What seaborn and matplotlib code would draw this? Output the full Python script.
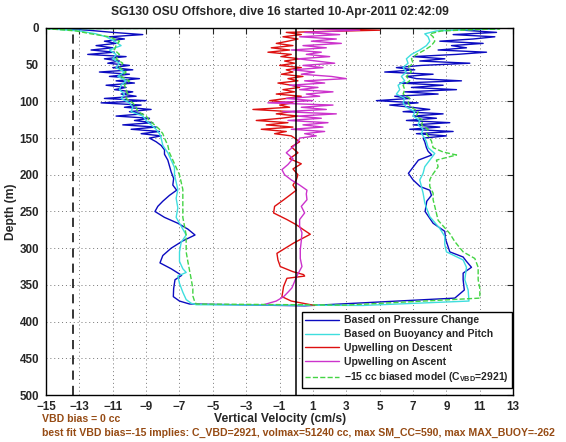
import matplotlib
matplotlib.use("Agg")
import matplotlib.pyplot as plt
import seaborn as sns
import pandas as pd

# ---------------------------------------------------------------------------
# Data (depth in m, vertical velocity in cm/s)
# ---------------------------------------------------------------------------
# noisy upper 150 m, 3 m steps
depth_top = [0, 3, 6, 9, 12, 15, 18, 21, 24, 27, 30, 33, 36, 39, 42, 45, 48, 51,
             54, 57, 60, 63, 66, 69, 72, 75, 78, 81, 84, 87, 90, 93, 96, 99, 102,
             105, 108, 111, 114, 117, 120, 123, 126, 129, 132, 135, 138, 141, 144,
             147, 150]

press_desc_top = [-14.8, -12.5, -11.0, -9.2, -11.2, -10.3, -11.5, -10.8, -12.0, -11.0,
                  -12.3, -10.9, -12.5, -10.2, -11.5, -10.6, -11.3, -10.0, -11.0, -9.8,
                  -11.8, -10.0, -11.2, -9.4, -10.8, -9.7, -11.4, -10.2, -10.9, -9.8,
                  -10.5, -9.6, -11.5, -9.0, -11.7, -9.3, -10.3, -8.7, -10.0, -9.2,
                  -10.8, -8.8, -9.7, -8.6, -10.4, -8.4, -9.9, -8.2, -9.3, -8.1, -8.8]
press_asc_top = [12.5, 10.0, 12.0, 9.4, 11.9, 10.6, 8.6, 11.2, 9.3, 10.2,
                 8.5, 11.4, 9.6, 7.0, 8.9, 7.4, 10.4, 7.5, 6.0, 7.1,
                 5.3, 8.2, 6.6, 7.2, 9.9, 6.2, 8.8, 6.9, 9.6, 6.5,
                 8.5, 5.9, 6.8, 4.8, 7.3, 5.6, 6.9, 8.0, 6.4, 8.8,
                 7.0, 8.4, 6.6, 9.2, 7.0, 8.6, 6.8, 9.4, 7.2, 9.0, 7.6]
upw_desc_top = [0.0, 5.0, -0.6, 0.3, -0.8, 0.1, -0.5, -1.2, -0.2, -1.5,
                -0.4, -1.7, -0.3, -0.9, 0.2, -0.7, -0.1, -1.0, 0.3, -0.6,
                -0.2, -0.9, 0.4, -0.5, 0.1, -1.1, -0.3, 0.2, -0.8, -0.1,
                -1.2, 0.3, -0.6, -1.6, -0.2, -1.0, -0.4, -2.6, -0.3, -1.2,
                0.1, -0.9, -2.4, -0.5, -1.8, -0.2, -2.1, -0.6, -1.3, -0.3, -0.1]
upw_asc_top = [0.0, 3.8, 0.5, 2.6, 0.2, 2.4, 0.9, 2.7, 0.4, 1.8,
               -0.3, 1.5, 0.6, 2.0, 0.1, 1.2, 2.3, 0.4, 1.6, -0.2,
               1.1, 0.3, 2.1, 3.0, 0.5, 1.7, -0.4, 1.3, 0.2, 2.2,
               0.6, 1.4, -0.6, 1.0, -1.7, 2.2, 0.3, 1.8, -0.8, 2.4,
               0.1, 1.5, -0.5, 1.9, 0.4, 1.6, -0.3, 1.7, 0.5, 1.2, 0.2]

# smoother model-based curves, upper 150 m
depth_smooth_top = [0, 1, 4, 8, 12, 18, 24, 30, 36, 42, 48, 54, 60, 66, 72, 78, 84,
                    90, 96, 102, 108, 114, 120, 126, 132, 138, 144, 150]
buoy_desc_top = [-0.3, -14.9, -13.0, -12.0, -11.4, -10.9, -10.5, -11.2, -10.8, -11.0,
                 -10.6, -10.8, -10.3, -10.7, -10.2, -10.5, -10.6, -10.3, -10.5, -10.0,
                 -9.8, -9.9, -9.2, -9.0, -8.7, -8.4, -8.2, -8.1]
buoy_asc_top = [0.0, 12.0, 8.4, 7.7, 7.9, 8.0, 7.8, 7.4, 6.9, 6.6,
                6.7, 6.4, 6.6, 6.3, 6.5, 6.1, 6.2, 6.0, 6.5, 6.4,
                6.6, 7.1, 7.0, 7.4, 7.3, 7.6, 7.5, 7.7]
model_desc_top = [-0.2, -14.9, -13.2, -12.3, -11.2, -10.6, -10.8, -10.9, -10.6, -10.8,
                  -10.4, -10.6, -10.2, -10.5, -10.0, -10.3, -10.2, -10.1, -10.2, -9.8,
                  -9.6, -9.5, -9.0, -8.8, -8.5, -8.2, -8.0, -7.9]
model_asc_top = [0.0, 12.2, 8.7, 8.0, 8.2, 8.3, 8.1, 7.7, 7.2, 6.9,
                 7.0, 6.7, 6.9, 6.6, 6.8, 6.4, 6.5, 6.4, 6.8, 6.7,
                 6.9, 7.3, 7.2, 7.6, 7.5, 7.9, 7.8, 8.0]

# deeper part (descent arrays end at the bottom turn)
press_desc_deep_z = [155, 160, 166, 172, 180, 188, 196, 205, 214, 221, 228, 236, 243,
                     250, 258, 266, 274, 282, 290, 300, 310, 320, 328, 337, 343, 355,
                     366, 372, 376, 378.5]
press_desc_deep = [-8.4, -8.1, -7.9, -7.9, -7.7, -7.6, -7.5, -7.35, -7.4, -7.17, -7.6,
                   -8.0, -8.3, -8.47, -7.9, -7.1, -6.5, -6.07, -6.8, -7.5, -8.0, -8.17,
                   -7.5, -6.87, -7.27, -7.35, -7.37, -7.0, -6.4, 0.5]
press_asc_deep_z = [155, 163, 168, 173, 180, 189, 198, 207, 216, 221, 228, 236, 250,
                    266, 277, 288, 298, 305, 312, 318, 326, 334, 343, 357, 368]
press_asc_deep = [7.7, 7.8, 7.9, 8.12, 7.32, 7.02, 6.72, 7.0, 7.42, 8.0, 8.1, 7.82,
                  7.72, 8.2, 8.9, 8.95, 9.1, 9.2, 10.0, 10.2, 10.5, 10.0, 10.0, 10.07, 9.5]

buoy_desc_deep_z = [160, 170, 180, 190, 200, 210, 220, 232, 245, 258, 270, 282, 292,
                    305, 318, 328, 333, 338, 348, 360, 370, 375, 377, 378]
buoy_desc_deep = [-8.0, -7.7, -7.5, -7.3, -7.3, -7.2, -7.1, -7.2, -7.1, -7.2, -6.9,
                  -6.6, -6.9, -7.0, -7.0, -6.8, -6.6, -7.1, -7.0, -6.8, -6.6, -6.3,
                  -6.0, 4.0]
buoy_asc_deep_z = [155, 163, 171, 180, 189, 198, 207, 216, 225, 238, 245, 257, 273,
                   284, 295, 305, 316, 326, 343, 357, 372]
buoy_asc_deep = [7.8, 7.9, 8.3, 8.0, 7.7, 7.6, 7.4, 7.5, 7.6, 7.7, 7.8, 8.0, 8.6,
                 8.9, 8.9, 9.0, 10.0, 10.2, 10.1, 10.3, 10.35]

model_desc_deep_z = [160, 170, 180, 190, 200, 210, 220, 232, 245, 258, 270, 282, 292,
                     305, 318, 330, 342, 355, 365, 372, 376, 377.5]
model_desc_deep = [-7.7, -7.6, -7.4, -7.2, -7.0, -6.9, -6.8, -6.8, -6.8, -6.8, -6.7,
                   -6.6, -6.6, -6.6, -6.5, -6.4, -6.3, -6.2, -6.2, -6.1, -6.0, 3.0]
model_asc_deep_z = [154, 163, 169, 173, 180, 189, 202, 207, 216, 225, 234, 243, 262,
                    280, 291, 305, 314, 326, 343, 355, 368]
model_asc_deep = [8.1, 8.2, 8.8, 9.6, 8.4, 8.5, 8.1, 8.0, 8.0, 8.2, 8.2, 8.3, 8.5,
                  9.2, 9.5, 10.0, 10.7, 10.9, 10.9, 11.0, 11.0]

upw_desc_deep_z = [155, 162, 170, 178, 185, 192, 200, 207, 214, 221, 228, 234, 243,
                   252, 261, 268, 275, 281, 293, 307, 316, 325, 332, 336, 338, 341,
                   352, 366, 372, 378]
upw_desc_deep = [0.2, -0.3, 0.1, -0.4, 0.3, -0.2, 0.1, 0.0, -0.2, 0.0, -0.4, -0.75,
                 -1.3, -1.36, -0.56, 0.0, 0.44, 0.84, -0.16, -1.16, -1.1, -0.96, -0.2,
                 0.44, 0.5, -0.56, -0.76, -0.86, -0.3, 1.1]
upw_asc_deep_z = [155, 162, 170, 178, 186, 193, 200, 207, 214, 221, 226, 234, 243,
                  252, 261, 270, 279, 290, 302, 314, 325, 335, 343, 354, 360, 366,
                  372, 377]
upw_asc_deep = [0.1, -0.2, -0.6, -0.2, -0.5, -0.86, -0.7, -0.3, 0.2, 0.64, 0.6, 0.64,
                0.3, 0.5, 0.2, 0.2, 0.34, 0.3, 0.24, 0.24, 0.34, 0.1, -0.06, -0.26,
                -0.5, -0.76, -1.2, -1.96]

vbd_line = -13.4
zero_line = 0.0

labels = ["Based on Pressure Change", "Based on Buoyancy and Pitch",
          "Upwelling on Descent", "Upwelling on Ascent",
          "\u221215 cc biased model (C$_{\\mathrm{VBD}}$=2921)"]
title = "SG130 OSU Offshore, dive 16 started 10-Apr-2011 02:42:09"
note1 = "VBD bias = 0 cc"
note2 = ("best fit VBD bias=-15 implies: C_VBD=2921, volmax=51240 cc, "
         "max SM_CC=590, max MAX_BUOY=-262")

# ---------------------------------------------------------------------------
# Assemble long-form frame (descent down, then ascent back up)
# ---------------------------------------------------------------------------
def dive(z_dt, v_dt, z_dd, v_dd, z_ad=None, v_ad=None, z_at=None, v_at=None):
    z = list(z_dt) + list(z_dd)
    v = list(v_dt) + list(v_dd)
    if z_ad is not None:
        z += list(z_ad)[::-1] + list(z_at)[::-1]
        v += list(v_ad)[::-1] + list(v_at)[::-1]
    return z, v

series = {
    labels[0]: dive(depth_top, press_desc_top, press_desc_deep_z, press_desc_deep,
                    press_asc_deep_z, press_asc_deep, depth_top, press_asc_top),
    labels[1]: dive(depth_smooth_top, buoy_desc_top, buoy_desc_deep_z, buoy_desc_deep,
                    buoy_asc_deep_z, buoy_asc_deep, depth_smooth_top, buoy_asc_top),
    labels[2]: dive(depth_top, upw_desc_top, upw_desc_deep_z, upw_desc_deep),
    labels[3]: dive(upw_asc_deep_z[::-1], upw_asc_deep[::-1], depth_top[::-1],
                    upw_asc_top[::-1]),
    labels[4]: dive(depth_smooth_top, model_desc_top, model_desc_deep_z, model_desc_deep,
                    model_asc_deep_z, model_asc_deep, depth_smooth_top, model_asc_top),
}

frames = []
for name, (z, v) in series.items():
    frames.append(pd.DataFrame({"depth": z, "velocity": v, "series": name}))
df = pd.concat(frames, ignore_index=True)

colors = {labels[0]: "#0b0bc0", labels[1]: "#3fdede", labels[2]: "#dd1010",
          labels[3]: "#cc33cc", labels[4]: "#44d444"}

# ---------------------------------------------------------------------------
# Plot
# ---------------------------------------------------------------------------
sns.set_style("white")
plt.rcParams["font.family"] = ["Liberation Sans", "DejaVu Sans"]
plt.rcParams["font.weight"] = "bold"
plt.rcParams["mathtext.fontset"] = "custom"
plt.rcParams["mathtext.rm"] = "Liberation Sans:bold"
plt.rcParams["mathtext.bf"] = "Liberation Sans:bold"
plt.rcParams["mathtext.default"] = "rm"

fig = plt.figure(figsize=(5.66, 4.42), dpi=100)
ax = fig.add_axes([0.0813, 0.1063, 0.8254, 0.8304])

for name in labels:
    sub = df[df["series"] == name]
    ls = "--" if name == labels[4] else "-"
    sns.lineplot(data=sub, x="velocity", y="depth", sort=False, estimator=None,
                 color=colors[name], lw=1.0, linestyle=ls, label=name, ax=ax)

ax.axvline(vbd_line, color="black", lw=1.1, linestyle=(0, (6, 4)))
ax.axvline(zero_line, color="black", lw=1.1)

ax.set_xlim(-15, 13)
ax.set_ylim(500, 0)
ax.set_xticks(range(-15, 14, 2))
ax.set_yticks(range(0, 501, 50))
ax.grid(True, color="#777777", linestyle=(0, (1, 3)), lw=0.7)
ax.tick_params(direction="in", length=4, width=0.8, top=True, right=True,
               labelsize=8.4)
ax.tick_params(axis="x", pad=4)
ax.tick_params(axis="y", pad=5)
for lab in ax.get_xticklabels() + ax.get_yticklabels():
    lab.set_fontweight("bold")
for sp in ax.spines.values():
    sp.set_color("black")
    sp.set_linewidth(1.0)

ax.set_xlabel("Vertical Velocity (cm/s)", fontsize=8.7, fontweight="bold", labelpad=0)
ax.set_ylabel("Depth (m)", fontsize=8.7, fontweight="bold", labelpad=2)
ax.set_title(title, fontsize=8.7, fontweight="bold", pad=9)

leg = ax.legend(loc="lower right", bbox_to_anchor=(0.998, 0.019), frameon=True,
                fancybox=False, edgecolor="black", framealpha=1, fontsize=7.5,
                handlelength=3.2, labelspacing=0.36, borderpad=0.35,
                handletextpad=0.5, borderaxespad=0)
leg.get_frame().set_linewidth(1.0)

fig.text(0.074, 0.052, note1, color="#964b14", fontsize=7.6, fontweight="bold",
         va="center")
fig.text(0.074, 0.020, note2, color="#964b14", fontsize=7.6, fontweight="bold",
         va="center")

fig.savefig("out.png", dpi=100)
